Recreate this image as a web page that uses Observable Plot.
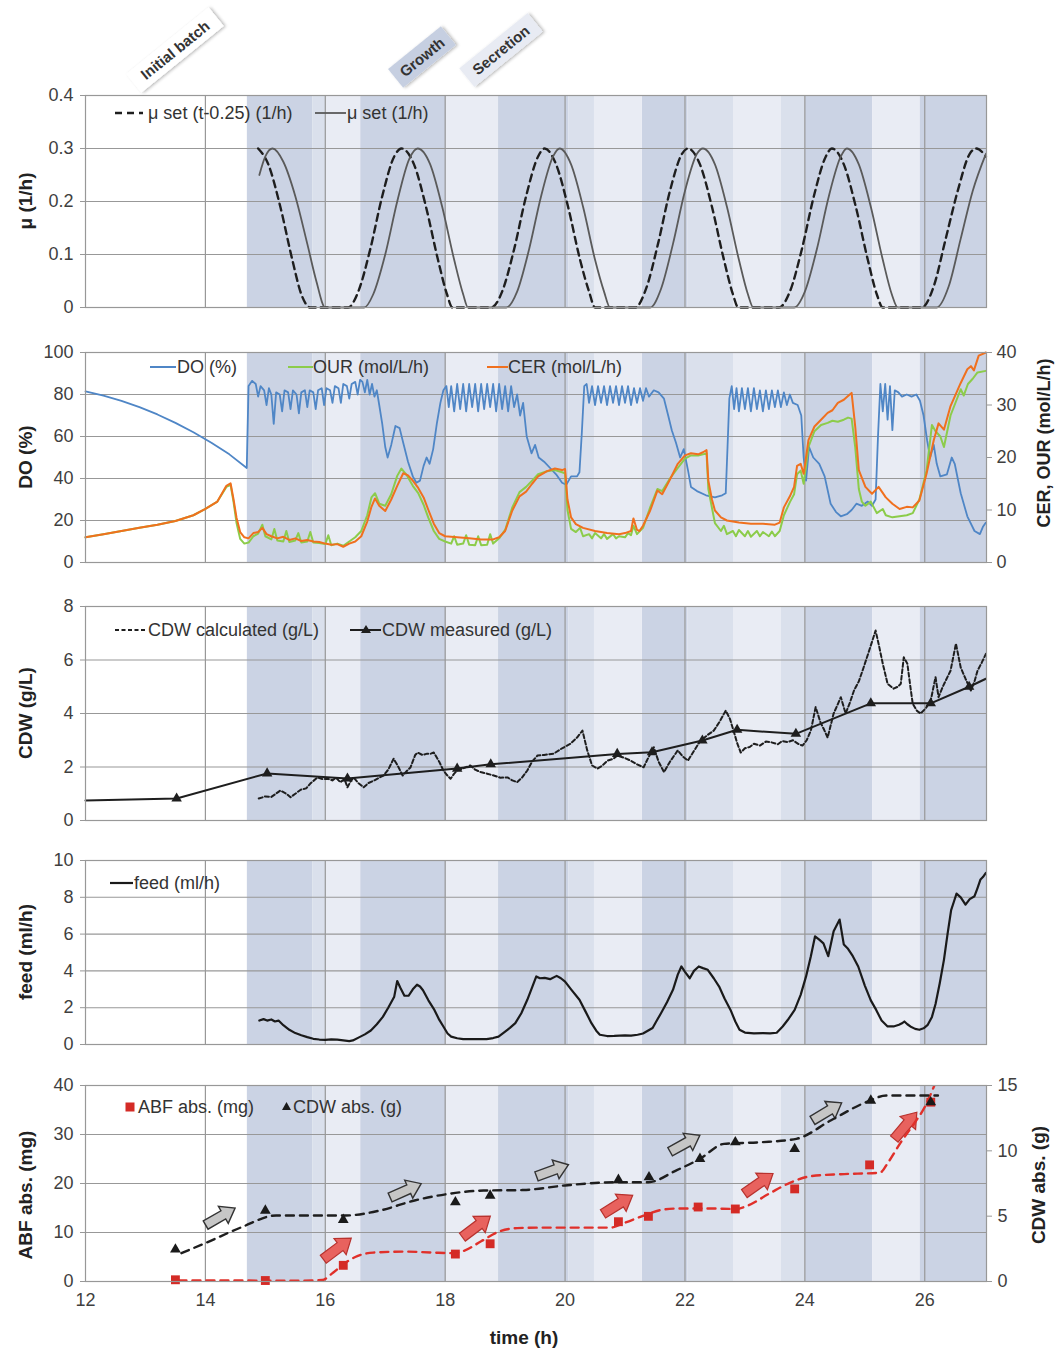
<!DOCTYPE html>
<html><head><meta charset="utf-8">
<script src="https://cdn.jsdelivr.net/npm/d3@7"></script>
<script src="https://cdn.jsdelivr.net/npm/@observablehq/plot@0.6"></script>
<style>
html,body{margin:0;padding:0;background:#fff;overflow:hidden;}
#wrap{position:relative;width:1062px;height:1351px;overflow:hidden;background:#fff;}
.panel{position:absolute;left:0;}
</style></head>
<body><div id="wrap"></div>
<script>
// ---------------- DATA ----------------
const xDomain = [12, 27.03];
const xGrid = [14, 16, 18, 20, 22, 24, 26];
const xTicks = [12, 14, 16, 18, 20, 22, 24, 26];

// phase bands (h)
const bandStart = [14.70, 15.79, 16.02, 16.59, 18.02, 18.89, 20.06, 20.49, 21.29, 22.05, 22.81, 23.61, 24.01, 25.13, 25.92];
const bandEnd   = [15.79, 16.02, 16.59, 18.02, 18.89, 20.06, 20.49, 21.29, 22.05, 22.81, 23.61, 24.01, 25.13, 25.92, 27.03];
const bandShade = ["dark","medium","light","dark","light","dark","medium","light","dark","medium","light","medium","dark","light","dark"];

// panel 1: mu set
const muTicks = [0, 0.1, 0.2, 0.3, 0.4];
const muSet = [[14.90,0.25],[15.00,0.285],[15.12,0.30],[15.30,0.275],[15.50,0.21],[15.70,0.12],[15.85,0.05],[16.00,0.0],[16.65,0.0],[16.80,0.025],[17.00,0.10],[17.20,0.20],[17.40,0.28],[17.54,0.30],[17.75,0.27],[17.95,0.19],[18.15,0.09],[18.30,0.025],[18.38,0.0],[19.02,0.0],[19.20,0.03],[19.40,0.11],[19.60,0.21],[19.80,0.285],[19.91,0.30],[20.10,0.27],[20.30,0.19],[20.50,0.09],[20.65,0.03],[20.75,0.0],[21.42,0.0],[21.60,0.035],[21.80,0.12],[22.00,0.22],[22.20,0.29],[22.30,0.30],[22.50,0.27],[22.70,0.19],[22.90,0.09],[23.05,0.025],[23.14,0.0],[23.82,0.0],[24.00,0.03],[24.20,0.11],[24.40,0.21],[24.60,0.285],[24.70,0.30],[24.90,0.27],[25.10,0.19],[25.30,0.09],[25.45,0.025],[25.55,0.0],[26.20,0.0],[26.40,0.04],[26.60,0.13],[26.80,0.22],[27.02,0.29]];
const muSetShift = [[14.88,0.30],[15.05,0.27],[15.25,0.19],[15.45,0.09],[15.60,0.025],[15.75,0.0],[16.38,0.0],[16.55,0.03],[16.75,0.11],[16.95,0.21],[17.15,0.285],[17.27,0.30],[17.48,0.27],[17.68,0.19],[17.88,0.09],[18.03,0.025],[18.12,0.0],[18.77,0.0],[18.95,0.03],[19.15,0.11],[19.35,0.21],[19.55,0.285],[19.66,0.30],[19.85,0.27],[20.05,0.19],[20.25,0.09],[20.40,0.03],[20.50,0.0],[21.17,0.0],[21.35,0.035],[21.55,0.12],[21.75,0.22],[21.95,0.29],[22.05,0.30],[22.25,0.27],[22.45,0.19],[22.65,0.09],[22.80,0.025],[22.89,0.0],[23.57,0.0],[23.75,0.03],[23.95,0.11],[24.15,0.21],[24.35,0.285],[24.45,0.30],[24.65,0.27],[24.85,0.19],[25.05,0.09],[25.20,0.025],[25.30,0.0],[25.95,0.0],[26.15,0.04],[26.35,0.13],[26.55,0.22],[26.75,0.29],[26.86,0.30],[27.02,0.285]];

// panel 2: DO (%), OUR & CER (mol/L/h)
const doTicks = [0, 20, 40, 60, 80, 100];
const rateTicks = [0, 10, 20, 30, 40];
const DO = [[12.0,81.5],[12.3,79.5],[12.6,77],[12.9,74],[13.2,70.5],[13.5,66.5],[13.8,62],[14.1,57],[14.4,51.5],[14.69,45],
[14.72,84],[14.78,86.5],[14.84,85],[14.88,79],[14.92,84],[14.98,82],[15.02,75],[15.06,83],[15.1,80],[15.14,66],[15.18,81],[15.24,80],[15.28,72],[15.32,82],[15.38,81],[15.42,73],[15.46,82],[15.52,80],[15.56,71],[15.6,81],[15.66,82],[15.7,74],[15.74,82],[15.8,81],[15.84,73],[15.88,82],[15.94,83],[15.98,75],[16.02,83],[16.08,82],[16.12,76],[16.16,84],[16.22,83],[16.26,76],[16.3,85],[16.36,84],[16.4,78],[16.44,85],[16.5,86],[16.54,80],[16.58,87],[16.62,86],[16.66,81],[16.7,87],[16.74,80],[16.78,85],[16.82,79],[16.86,82],[16.9,75],[16.95,66],[17.0,55],[17.04,50],[17.1,56],[17.17,65],[17.24,64],[17.3,57],[17.38,48],[17.46,41],[17.52,38],[17.58,39],[17.64,46],[17.69,50],[17.74,47],[17.8,54],[17.86,66],[17.92,76],[17.97,82],
[18.02,84],[18.06,74],[18.1,84],[18.15,72],[18.2,85],[18.25,73],[18.3,85],[18.35,72],[18.4,85],[18.45,74],[18.5,85],[18.55,72],[18.6,85],[18.65,73],[18.7,85],[18.75,74],[18.8,85],[18.85,72],[18.9,85],[18.95,73],[19.0,84],[19.05,72],[19.1,84],[19.15,74],[19.2,80],[19.25,70],[19.3,76],[19.36,60],[19.44,52],[19.5,56],[19.56,50],[19.65,48],[19.75,45],[19.85,42],[19.95,38],[20.02,37],[20.1,41],[20.2,41],[20.24,43],[20.28,62],[20.32,84],
[20.36,85],[20.4,76],[20.45,84],[20.5,75],[20.55,84],[20.6,76],[20.65,84],[20.7,75],[20.75,84],[20.8,76],[20.85,84],[20.9,75],[20.95,84],[21.0,76],[21.05,84],[21.1,75],[21.15,83],[21.2,76],[21.25,83],[21.3,77],[21.35,83],[21.4,79],[21.48,82],[21.56,81],[21.65,78],[21.72,70],[21.78,63],[21.85,57],[21.92,50],[21.98,54],[22.05,44],[22.1,36],[22.2,34],[22.35,32],[22.5,31],[22.62,32],[22.68,33],[22.71,55],[22.74,78],[22.78,84],
[22.82,73],[22.86,83],[22.9,72],[22.95,83],[23.0,73],[23.05,83],[23.1,72],[23.15,83],[23.2,73],[23.25,82],[23.3,72],[23.35,82],[23.4,73],[23.45,82],[23.5,74],[23.55,82],[23.6,74],[23.65,81],[23.7,75],[23.75,80],[23.8,76],[23.88,75],[23.94,70],[23.98,50],[24.02,39],[24.07,55],[24.14,50],[24.24,47],[24.33,41],[24.43,28],[24.52,24],[24.6,22],[24.7,23],[24.78,25],[24.86,28],[24.95,27],[25.05,29],[25.12,27],[25.18,30],[25.22,60],[25.26,85],
[25.3,72],[25.34,85],[25.38,68],[25.42,84],[25.46,63],[25.5,82],[25.56,81],[25.62,79],[25.7,80],[25.78,79],[25.86,80],[25.92,77],[25.98,70],[26.04,58],[26.09,50],[26.15,56],[26.2,47],[26.26,41],[26.37,42],[26.45,50],[26.5,47],[26.6,33],[26.71,22],[26.83,15],[26.92,13.5],[26.97,17],[27.02,19]];
const CER = [[12.0,4.8],[12.3,5.4],[12.6,6.0],[12.9,6.6],[13.2,7.2],[13.5,7.9],[13.8,9.0],[14.0,10.2],[14.2,11.6],[14.35,14.6],[14.42,15.1],[14.47,12],[14.52,8.5],[14.58,5.8],[14.65,4.8],[14.72,4.6],[14.8,5.6],[14.88,5.8],[14.95,6.6],[15.02,5.4],[15.1,5.0],[15.2,4.6],[15.3,4.9],[15.4,4.3],[15.5,4.6],[15.6,4.1],[15.7,4.3],[15.8,4.0],[15.9,3.9],[16.0,3.6],[16.1,3.4],[16.2,3.5],[16.3,3.0],[16.4,3.6],[16.5,4.0],[16.6,5.0],[16.7,7.8],[16.77,10.6],[16.83,12.2],[16.9,10.8],[17.0,9.8],[17.1,12.0],[17.2,14.6],[17.3,17.0],[17.38,16.6],[17.46,15.6],[17.55,14.2],[17.64,12.4],[17.72,10.0],[17.81,7.4],[17.9,5.6],[18.0,5.0],[18.2,4.8],[18.4,4.6],[18.6,4.4],[18.8,4.4],[18.9,4.8],[19.0,6.0],[19.12,9.9],[19.24,12.6],[19.35,13.5],[19.45,15.0],[19.55,16.4],[19.7,17.4],[19.83,17.9],[19.95,17.6],[20.0,17.8],[20.04,12],[20.1,8.6],[20.18,7.3],[20.3,6.6],[20.5,6.0],[20.7,5.6],[20.9,5.4],[21.0,5.6],[21.1,6.0],[21.14,8.4],[21.2,6.2],[21.24,6.0],[21.3,7.0],[21.42,9.9],[21.54,13.7],[21.62,13.0],[21.75,15.8],[21.88,18.8],[22.0,20.4],[22.1,20.8],[22.22,20.6],[22.3,21.0],[22.36,21.4],[22.39,15.6],[22.45,12.0],[22.5,9.9],[22.6,8.6],[22.7,8.0],[22.9,7.6],[23.1,7.4],[23.3,7.4],[23.5,7.2],[23.58,7.6],[23.65,10.5],[23.75,12.6],[23.82,14.4],[23.87,18.4],[23.93,18.8],[23.98,16.9],[24.06,23.3],[24.16,25.9],[24.27,27.2],[24.38,28.5],[24.46,29.0],[24.55,30.4],[24.65,31.0],[24.72,31.7],[24.78,32.3],[24.84,25.9],[24.9,17.6],[25.01,14.4],[25.12,13.1],[25.23,14.4],[25.35,12.4],[25.46,11.2],[25.58,10.2],[25.7,10.6],[25.8,10.5],[25.91,11.8],[26.03,16.9],[26.15,23.3],[26.23,26.5],[26.32,25.3],[26.43,29.8],[26.6,34.2],[26.71,36.8],[26.77,37.4],[26.82,36.6],[26.9,39.4],[27.02,40]];
const OUR = [[12.0,4.8],[12.3,5.4],[12.6,6.0],[12.9,6.6],[13.2,7.2],[13.5,7.9],[13.8,9.0],[14.0,10.2],[14.2,11.6],[14.35,14.4],[14.42,14.8],[14.47,11.5],[14.52,7.5],[14.58,4.5],[14.65,3.6],[14.72,3.8],[14.8,5.0],[14.88,5.5],[14.95,7.2],[15.0,5.0],[15.1,4.4],[15.15,6.4],[15.2,4.2],[15.3,4.0],[15.35,6.0],[15.4,3.9],[15.5,4.2],[15.55,5.6],[15.6,3.8],[15.7,4.0],[15.75,5.8],[15.8,3.8],[15.9,3.7],[16.0,3.5],[16.05,5.2],[16.1,3.3],[16.2,3.6],[16.3,3.2],[16.4,4.0],[16.5,4.8],[16.6,6.0],[16.7,9.0],[16.77,12.4],[16.83,13.2],[16.9,11.2],[17.0,10.8],[17.1,13.0],[17.2,16.5],[17.27,17.9],[17.35,16.8],[17.46,14.6],[17.55,13.2],[17.64,11.0],[17.72,8.5],[17.81,6.0],[17.9,4.5],[18.0,4.0],[18.1,3.6],[18.15,5.0],[18.2,3.4],[18.3,3.6],[18.35,5.2],[18.4,3.4],[18.5,3.3],[18.55,5.0],[18.6,3.3],[18.7,3.4],[18.75,5.4],[18.8,3.6],[18.9,4.6],[19.0,6.2],[19.12,10.5],[19.24,13.4],[19.35,14.4],[19.45,15.6],[19.55,16.8],[19.7,17.4],[19.83,17.6],[19.95,17.2],[20.0,17.0],[20.04,10],[20.1,6.4],[20.18,5.8],[20.25,6.6],[20.3,5.0],[20.4,5.4],[20.45,4.6],[20.5,5.6],[20.6,4.6],[20.65,5.4],[20.7,4.5],[20.8,5.4],[20.85,4.6],[20.9,5.0],[21.0,4.8],[21.05,5.6],[21.1,5.2],[21.14,7.0],[21.2,5.4],[21.3,6.6],[21.42,10.5],[21.54,14.0],[21.62,13.6],[21.75,16.0],[21.88,18.0],[22.0,19.8],[22.1,20.4],[22.22,20.4],[22.3,20.6],[22.36,20.8],[22.39,14.0],[22.45,10.4],[22.5,7.5],[22.6,6.0],[22.65,7.0],[22.7,5.4],[22.8,6.0],[22.85,5.0],[22.9,6.2],[23.0,5.0],[23.05,6.0],[23.1,4.9],[23.2,6.0],[23.25,5.0],[23.3,5.8],[23.4,5.0],[23.45,5.9],[23.5,5.0],[23.58,6.0],[23.65,9.0],[23.75,11.5],[23.82,13.0],[23.87,16.8],[23.93,17.5],[23.98,15.0],[24.06,22.0],[24.16,25.0],[24.27,26.2],[24.38,26.6],[24.46,27.0],[24.55,26.8],[24.65,27.2],[24.72,27.6],[24.78,27.4],[24.84,22.0],[24.9,14.0],[24.95,11.6],[25.01,10.8],[25.1,11.6],[25.2,9.4],[25.3,10.2],[25.35,9.0],[25.46,8.6],[25.58,8.8],[25.7,9.0],[25.8,9.4],[25.91,12.0],[26.03,17.5],[26.12,26.2],[26.18,25.0],[26.26,24.0],[26.32,22.0],[26.43,28.0],[26.6,33.0],[26.65,31.8],[26.72,34.0],[26.8,35.0],[26.88,36.2],[27.02,36.5]];

// panel 3: CDW (g/L)
const cdwTicks = [0, 2, 4, 6, 8];
const cdwMeasuredT = [12.0, 13.52, 15.03, 16.37, 18.2, 18.76, 20.87, 21.45, 22.29, 22.87, 23.85, 25.1, 26.1, 26.74, 27.02];
const cdwMeasuredV = [0.75, 0.82, 1.76, 1.57, 1.94, 2.1, 2.49, 2.55, 2.99, 3.39, 3.24, 4.38, 4.38, 5.0, 5.3];
const cdwCalc = [[14.89,0.82],[15.0,0.9],[15.1,0.88],[15.25,1.12],[15.35,1.0],[15.42,0.87],[15.5,1.0],[15.59,1.15],[15.68,1.2],[15.75,1.38],[15.87,1.61],[15.95,1.55],[16.04,1.56],[16.12,1.5],[16.18,1.6],[16.25,1.43],[16.32,1.55],[16.37,1.24],[16.42,1.45],[16.47,1.61],[16.55,1.4],[16.64,1.24],[16.72,1.4],[16.81,1.49],[16.9,1.6],[16.97,1.68],[17.05,1.9],[17.14,2.31],[17.22,2.0],[17.29,1.68],[17.36,1.85],[17.42,1.98],[17.5,2.45],[17.54,2.54],[17.62,2.45],[17.7,2.5],[17.76,2.5],[17.81,2.54],[17.9,2.2],[17.97,1.87],[18.03,1.7],[18.09,1.56],[18.15,1.75],[18.2,1.87],[18.3,1.95],[18.42,2.06],[18.5,1.9],[18.59,1.81],[18.7,1.75],[18.81,1.68],[18.92,1.6],[19.04,1.61],[19.12,1.5],[19.2,1.43],[19.28,1.6],[19.37,1.87],[19.45,2.2],[19.54,2.43],[19.65,2.45],[19.81,2.5],[19.95,2.7],[20.09,2.87],[20.2,3.1],[20.29,3.36],[20.37,2.62],[20.45,2.06],[20.54,1.94],[20.62,2.05],[20.71,2.24],[20.8,2.3],[20.87,2.43],[20.98,2.35],[21.09,2.24],[21.2,2.1],[21.31,1.99],[21.4,2.4],[21.48,2.74],[21.56,2.2],[21.65,1.81],[21.75,2.2],[21.88,2.62],[21.96,2.4],[22.05,2.24],[22.15,2.6],[22.26,2.99],[22.38,3.2],[22.48,3.36],[22.58,3.7],[22.68,4.11],[22.75,3.8],[22.81,3.36],[22.87,2.9],[22.93,2.54],[23.0,2.7],[23.08,2.75],[23.15,2.87],[23.25,2.8],[23.35,2.95],[23.43,2.93],[23.55,2.85],[23.62,2.97],[23.71,2.93],[23.8,3.0],[23.9,2.85],[23.96,2.8],[24.03,3.0],[24.1,3.36],[24.18,4.24],[24.26,3.67],[24.32,3.4],[24.38,3.1],[24.48,4.0],[24.54,4.3],[24.6,4.61],[24.68,4.0],[24.75,4.4],[24.82,4.86],[24.9,5.2],[24.98,5.72],[25.08,6.4],[25.18,7.1],[25.24,6.5],[25.3,5.86],[25.38,5.11],[25.48,4.93],[25.55,5.0],[25.6,5.11],[25.65,6.1],[25.71,5.86],[25.76,5.0],[25.8,4.36],[25.87,4.1],[25.93,4.0],[26.02,4.2],[26.1,4.49],[26.18,5.36],[26.23,4.61],[26.3,5.0],[26.43,5.6],[26.52,6.61],[26.6,5.72],[26.68,5.3],[26.77,4.86],[26.83,5.2],[26.88,5.6],[26.95,5.9],[27.02,6.23]];

// panel 4: feed (ml/h)
const feedTicks = [0, 2, 4, 6, 8, 10];
const feed = [[14.9,1.3],[14.97,1.38],[15.03,1.3],[15.1,1.36],[15.16,1.25],[15.22,1.3],[15.3,1.05],[15.4,0.8],[15.5,0.62],[15.6,0.5],[15.7,0.4],[15.8,0.31],[15.9,0.27],[16.0,0.25],[16.1,0.28],[16.2,0.26],[16.3,0.22],[16.4,0.18],[16.46,0.22],[16.57,0.4],[16.66,0.55],[16.76,0.76],[16.86,1.1],[16.96,1.5],[17.05,2.0],[17.15,2.6],[17.2,3.45],[17.25,3.1],[17.32,2.65],[17.39,2.65],[17.46,3.0],[17.53,3.25],[17.58,3.15],[17.63,2.95],[17.72,2.4],[17.82,1.88],[17.9,1.35],[17.97,0.98],[18.04,0.6],[18.1,0.43],[18.2,0.34],[18.3,0.29],[18.5,0.3],[18.69,0.29],[18.8,0.35],[18.89,0.43],[19.0,0.7],[19.08,0.9],[19.17,1.16],[19.27,1.7],[19.37,2.43],[19.45,3.1],[19.52,3.7],[19.58,3.6],[19.66,3.62],[19.75,3.55],[19.86,3.73],[19.93,3.6],[20.0,3.42],[20.1,3.0],[20.24,2.43],[20.34,1.8],[20.44,1.16],[20.52,0.75],[20.58,0.53],[20.7,0.46],[20.82,0.47],[21.0,0.5],[21.1,0.48],[21.21,0.53],[21.3,0.6],[21.38,0.75],[21.46,0.9],[21.53,1.3],[21.6,1.7],[21.7,2.3],[21.8,2.97],[21.88,3.8],[21.94,4.24],[22.0,3.95],[22.08,3.6],[22.15,4.0],[22.23,4.24],[22.3,4.15],[22.38,4.06],[22.48,3.6],[22.57,3.15],[22.66,2.5],[22.76,1.88],[22.84,1.25],[22.91,0.8],[23.0,0.65],[23.15,0.6],[23.3,0.62],[23.42,0.6],[23.53,0.64],[23.63,0.98],[23.73,1.4],[23.83,1.88],[23.93,2.7],[24.02,3.7],[24.1,4.8],[24.17,5.88],[24.24,5.7],[24.31,5.5],[24.39,4.8],[24.48,6.15],[24.58,6.79],[24.65,5.43],[24.72,5.2],[24.8,4.8],[24.89,4.24],[25.0,3.2],[25.1,2.4],[25.19,1.88],[25.28,1.3],[25.38,0.98],[25.48,0.98],[25.57,1.07],[25.62,1.15],[25.66,1.25],[25.71,1.1],[25.76,0.98],[25.84,0.85],[25.91,0.8],[25.98,0.88],[26.05,1.07],[26.12,1.5],[26.18,2.2],[26.25,3.33],[26.32,4.6],[26.38,6.0],[26.44,7.3],[26.49,7.8],[26.53,8.2],[26.6,8.0],[26.68,7.6],[26.75,7.9],[26.83,8.06],[26.88,8.5],[26.93,8.97],[26.97,9.1],[27.02,9.33]];

// panel 5: ABF abs. (mg) & CDW abs. (g)
const abfTicks = [0, 10, 20, 30, 40];
const cdwAbsTicks = [0, 5, 10, 15];
const abfT = [13.5, 15.0, 16.3, 18.17, 18.75, 20.89, 21.39, 22.22, 22.84, 23.83, 25.08, 26.1];
const abfV = [0.35, 0.2, 3.3, 5.6, 7.7, 12.2, 13.3, 15.2, 14.8, 18.9, 23.8, 36.6];
const cdwAbsT = [13.5, 15.0, 16.3, 18.17, 18.75, 20.89, 21.4, 22.25, 22.84, 23.83, 25.1, 26.1];
const cdwAbsV = [2.45, 5.43, 4.72, 6.07, 6.58, 7.78, 7.98, 9.39, 10.66, 10.15, 13.85, 13.72];
const abfTrend = [[13.55,0.2],[14.5,0.2],[15.5,0.15],[15.95,0.3],[16.1,1.5],[16.3,3.5],[16.5,5.0],[16.8,5.9],[17.3,6.1],[17.8,5.9],[18.1,5.8],[18.3,6.2],[18.6,8.2],[18.9,10.2],[19.2,10.9],[19.6,11.0],[20.2,11.0],[20.76,11.0],[21.0,12.0],[21.3,13.4],[21.6,14.6],[21.9,14.9],[22.4,14.9],[22.85,14.8],[23.05,15.5],[23.4,17.9],[23.8,20.4],[24.1,21.5],[24.6,21.9],[25.25,22.2],[25.4,24.5],[25.6,28.4],[25.82,32.2],[26.0,35.6],[26.17,40.3]];
const cdwAbsTrend = [[13.6,2.17],[14.03,3.0],[14.6,4.15],[15.18,5.05],[15.76,5.05],[16.34,5.05],[16.91,5.43],[17.49,6.2],[18.06,6.71],[18.64,6.96],[19.3,7.0],[20.0,7.35],[20.87,7.6],[21.39,7.6],[21.85,8.49],[22.25,9.39],[22.65,10.53],[23.28,10.66],[23.86,10.92],[24.43,12.32],[25.02,13.72],[25.36,14.23],[26.22,14.23]];
// block arrows (annotation): time, value, pixel angle
const grayArrowT = [14.25, 17.34, 19.79, 22.0, 24.37];
const grayArrowG = [4.97, 6.96, 8.49, 10.56, 13.0];
const grayArrowA = [30, 24, 20, 29, 31];
const redArrowT = [16.2, 18.52, 20.88, 23.23, 25.68];
const redArrowMg = [6.7, 11.2, 15.7, 20.0, 31.8];
const redArrowA = [37, 37, 32, 35, 50];

// ---------------- STYLE ----------------
const FONT = "'Liberation Sans', Arial, Helvetica, sans-serif";
const GRID = "#989898";
const TXT = "#3f3f3f";
const SHADE = {dark: "#cbd3e4", medium: "#dae0ec", light: "#e9ecf4"};
const W = 1062, ML = 85, MR = 76;
const CER2DO = 100 / 40;
const G2MG = 40 / 15;
const TICKFS = 18;

const wrap = document.getElementById("wrap");
const bands = bandStart.map((s, i) => ({s, e: bandEnd[i], shade: bandShade[i]}));

function bandMarks(yDom) {
  return ["dark", "medium", "light"].map(k =>
    Plot.rect(bands.filter(b => b.shade === k), {x1: "s", x2: "e", y1: () => yDom[0], y2: () => yDom[1], fill: SHADE[k]}));
}
function leftAxis(ticks, fmt) {
  return Plot.axisY(ticks, {anchor: "left", tickSize: 5, tickPadding: 7, stroke: GRID, fill: TXT, fontSize: TICKFS, label: null, tickFormat: fmt || (d => String(d))});
}
function panel(top, height, mt, mb, yDom, yTicks, marks, xAxis) {
  const p = Plot.plot({
    width: W, height, marginLeft: ML, marginRight: MR, marginTop: mt, marginBottom: mb,
    x: {domain: xDomain, ...(xAxis ? {} : {axis: null})},
    y: {domain: yDom},
    style: {fontFamily: FONT, fontSize: TICKFS + "px", color: TXT, background: "transparent", overflow: "visible"},
    marks: [
      ...bandMarks(yDom),
      Plot.ruleX(xGrid, {stroke: GRID, strokeWidth: 1.2}),
      Plot.ruleY(yTicks, {stroke: GRID, strokeWidth: 1.1}),
      ...marks,
      Plot.frame({stroke: GRID, strokeWidth: 1.2})
    ]
  });
  p.classList.add("panel");
  p.style.top = top + "px";
  wrap.appendChild(p);
}
const X = d => d[0], Y = d => d[1];

// panel 1
panel(0, 330, 95, 23, [0, 0.4], muTicks, [
  leftAxis(muTicks),
  Plot.line(muSetShift, {x: X, y: Y, stroke: "#1e1e1e", strokeWidth: 2.4, strokeDasharray: "7,5", curve: "monotone-x"}),
  Plot.line(muSet, {x: X, y: Y, stroke: "#5a5a5a", strokeWidth: 1.8, curve: "monotone-x"})
]);

// panel 2
panel(330, 254, 22, 22, [0, 100], doTicks, [
  leftAxis(doTicks),
  Plot.axisY(rateTicks.map(v => v * CER2DO), {anchor: "right", tickSize: 5, tickPadding: 5, stroke: GRID, fill: TXT, fontSize: TICKFS, label: null, tickFormat: d => String(Math.round(d / CER2DO))}),
  Plot.line(DO, {x: X, y: Y, stroke: "#4f86c6", strokeWidth: 1.8}),
  Plot.line(OUR, {x: X, y: d => d[1] * CER2DO, stroke: "#8ccc4a", strokeWidth: 2}),
  Plot.line(CER, {x: X, y: d => d[1] * CER2DO, stroke: "#f0701e", strokeWidth: 2})
]);

// panel 3
const cdwMeasured = cdwMeasuredT.map((t, i) => [t, cdwMeasuredV[i]]);
panel(584, 256, 22, 20, [0, 8], cdwTicks, [
  leftAxis(cdwTicks),
  Plot.line(cdwCalc, {x: X, y: Y, stroke: "#1e1e1e", strokeWidth: 2, strokeDasharray: "4,2.5"}),
  Plot.line(cdwMeasured, {x: X, y: Y, stroke: "#1e1e1e", strokeWidth: 2}),
  Plot.dot(cdwMeasured.filter(d => d[0] > 12.05 && d[0] < 27), {x: X, y: Y, symbol: "triangle", r: 3.9, fill: "#1e1e1e", stroke: "none"})
]);

// panel 4
panel(840, 224, 20, 20, [0, 10], feedTicks, [
  leftAxis(feedTicks),
  Plot.line(feed, {x: X, y: Y, stroke: "#1a1a1a", strokeWidth: 2.2})
]);

// panel 5
function blockArrow(angleDeg) {
  const a = -angleDeg * Math.PI / 180, c = Math.cos(a), s = Math.sin(a);
  const pts = [[-1, -0.28], [0.2, -0.28], [0.2, -0.58], [1, 0], [0.2, 0.58], [0.2, 0.28], [-1, 0.28]];
  return {draw(ctx, size) {
    const r = Math.sqrt(size / Math.PI);
    pts.forEach(([px, py], i) => {
      const x = r * (px * c - py * s), y = r * (px * s + py * c);
      if (i) ctx.lineTo(x, y); else ctx.moveTo(x, y);
    });
    ctx.closePath();
  }};
}
const abf = abfT.map((t, i) => [t, abfV[i]]);
const cdwAbs = cdwAbsT.map((t, i) => [t, cdwAbsV[i]]);
const arrowMarks = [];
grayArrowT.forEach((t, i) => arrowMarks.push(Plot.dot([[t, grayArrowG[i]]], {x: X, y: d => d[1] * G2MG, r: 17, symbol: blockArrow(grayArrowA[i]), fill: "#c6c6c6", stroke: "#333", strokeWidth: 1.4})));
redArrowT.forEach((t, i) => arrowMarks.push(Plot.dot([[t, redArrowMg[i]]], {x: X, y: Y, r: 17.5, symbol: blockArrow(redArrowA[i]), fill: "#e8625e", stroke: "#b8322e", strokeWidth: 1.2})));
panel(1064, 287, 21, 70, [0, 40], abfTicks, [
  leftAxis(abfTicks),
  Plot.axisY(cdwAbsTicks.map(v => v * G2MG), {anchor: "right", tickSize: 5, tickPadding: 6, stroke: GRID, fill: TXT, fontSize: TICKFS, label: null, tickFormat: d => String(Math.round(d / G2MG))}),
  Plot.axisX(xTicks, {anchor: "bottom", tickSize: 0, tickPadding: 12, fill: TXT, fontSize: TICKFS, label: null, tickFormat: d => String(d)}),
  ...arrowMarks,
  Plot.line(abfTrend, {x: X, y: Y, stroke: "#e0302a", strokeWidth: 2.4, strokeDasharray: "8,6", curve: "monotone-x", clip: true}),
  Plot.line(cdwAbsTrend, {x: X, y: d => d[1] * G2MG, stroke: "#1e1e1e", strokeWidth: 2.4, strokeDasharray: "8,6", curve: "monotone-x"}),
  Plot.dot(abf, {x: X, y: Y, symbol: "square", r: 5, fill: "#d42b26", stroke: "none"}),
  Plot.dot(cdwAbs, {x: X, y: d => d[1] * G2MG, symbol: "triangle", r: 4, fill: "#1a1a1a", stroke: "none"})
], true);

// ---------------- OVERLAY: annotations, axis titles, legends ----------------
const phaseLabels = [
  {text: "Initial batch", cx: 175, cy: 50, w: 106, fill: "#ffffff"},
  {text: "Growth", cx: 422, cy: 57, w: 68, fill: "#c6cfe1"},
  {text: "Secretion", cx: 501, cy: 50, w: 88, fill: "#e8ebf3"}
];
const yTitles = [
  {text: "μ (1/h)", x: 25, y: 201, fs: 19},
  {text: "DO (%)", x: 25, y: 457, fs: 19},
  {text: "CER, OUR (mol/L/h)", x: 1044, y: 443, fs: 18},
  {text: "CDW (g/L)", x: 25, y: 713, fs: 19},
  {text: "feed (ml/h)", x: 25, y: 952, fs: 19},
  {text: "ABF abs. (mg)", x: 25, y: 1195, fs: 19},
  {text: "CDW abs. (g)", x: 1038, y: 1185, fs: 19}
];
let o = `<svg width="1062" height="1351" style="position:absolute;left:0;top:0;pointer-events:none" font-family="${FONT.replace(/'/g, "&quot;")}">
<defs><filter id="sh" x="-30%" y="-60%" width="160%" height="220%"><feDropShadow dx="1.5" dy="1.5" stdDeviation="1.4" flood-color="#000" flood-opacity="0.28"/></filter></defs>`;
phaseLabels.forEach(l => {
  o += `<g transform="translate(${l.cx},${l.cy}) rotate(-39)"><rect x="${-l.w/2}" y="-12" width="${l.w}" height="24" fill="${l.fill}" filter="url(#sh)"/><text text-anchor="middle" dy="0.36em" font-size="15" font-weight="bold" fill="#333">${l.text}</text></g>`;
});
yTitles.forEach(t => {
  o += `<text transform="translate(${t.x},${t.y}) rotate(-90)" text-anchor="middle" dy="0.36em" font-size="${t.fs}" font-weight="bold" fill="#222">${t.text}</text>`;
});
o += `<text x="524" y="1337" text-anchor="middle" dy="0.36em" font-size="19" font-weight="bold" fill="#222">time (h)</text>`;
const LT = `font-size="18" fill="#333" dy="0.36em"`;
// legend panel 1
o += `<line x1="115" x2="143" y1="113" y2="113" stroke="#1e1e1e" stroke-width="2.4" stroke-dasharray="7,5"/><text x="148" y="113" ${LT}>μ set (t-0.25) (1/h)</text>`;
o += `<line x1="315" x2="346" y1="113" y2="113" stroke="#5a5a5a" stroke-width="1.8"/><text x="347" y="113" ${LT}>μ set (1/h)</text>`;
// legend panel 2
o += `<line x1="150" x2="176" y1="367" y2="367" stroke="#4f86c6" stroke-width="2"/><text x="177" y="367" ${LT}>DO (%)</text>`;
o += `<line x1="288" x2="313" y1="367" y2="367" stroke="#8ccc4a" stroke-width="2"/><text x="313" y="367" ${LT}>OUR (mol/L/h)</text>`;
o += `<line x1="487" x2="508" y1="367" y2="367" stroke="#f0701e" stroke-width="2"/><text x="508" y="367" ${LT}>CER (mol/L/h)</text>`;
// legend panel 3
o += `<line x1="115" x2="145" y1="630" y2="630" stroke="#1e1e1e" stroke-width="2" stroke-dasharray="4,2.5"/><text x="148" y="630" ${LT}>CDW calculated (g/L)</text>`;
o += `<line x1="350" x2="381" y1="630" y2="630" stroke="#1e1e1e" stroke-width="2"/><path d="M366,625 L371,633 L361,633 Z" fill="#1e1e1e"/><text x="382" y="630" ${LT}>CDW measured (g/L)</text>`;
// legend panel 4
o += `<line x1="110" x2="133" y1="883" y2="883" stroke="#1a1a1a" stroke-width="2.2"/><text x="134" y="883" ${LT}>feed (ml/h)</text>`;
// legend panel 5
o += `<rect x="125.5" y="1102.5" width="9" height="9" fill="#d42b26"/><text x="138" y="1107" ${LT}>ABF abs. (mg)</text>`;
o += `<path d="M286.5,1102 L291,1110 L282,1110 Z" fill="#1a1a1a"/><text x="293" y="1107" ${LT}>CDW abs. (g)</text>`;
o += `</svg>`;
wrap.insertAdjacentHTML("beforeend", o);
</script>
</body></html>
